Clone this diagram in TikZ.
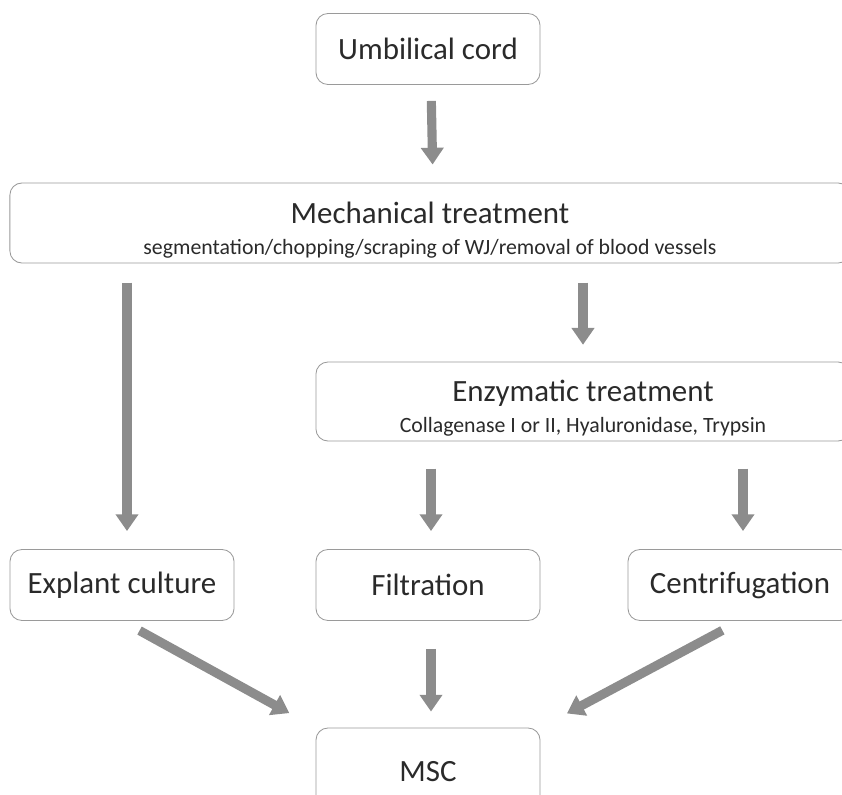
\documentclass[tikz,border=0pt]{standalone}
\usepackage{fontspec}
\setmainfont{Carlito}
\usetikzlibrary{arrows.meta}
\usetikzlibrary{positioning}
\definecolor{boxline}{HTML}{9A9A9A}
\definecolor{arrowgray}{HTML}{8C8C8C}
\definecolor{textgray}{HTML}{2A2A2A}
\tikzset{
x=0.025cm, y=-0.025cm,
my box/.style={draw=boxline,line width=0.6pt,rounded corners=3mm,
  text=textgray,inner sep=1mm,align=center},
small box/.style={my box,minimum width=5.6cm,minimum height=1.775cm,font=\fontsize{22}{26}\selectfont},
wide box/.style={my box,minimum height=2cm,font=\fontsize{22}{26}\selectfont},
flow/.style={draw=arrowgray,line width=6.5pt,
  -{Triangle[width=0.55cm,length=0.42cm]}},
}
\begin{document}
\begin{tikzpicture}
\useasboundingbox (0,0) rectangle (842,795);
\clip (0,0) rectangle (842,795);
\node[small box] (umb)   at (428,49) {Umbilical cord};
\node[wide box,minimum width=21cm] (mech) at (430,223)
  {\rule{0pt}{25pt}Mechanical treatment\\[-4pt]
   {\fontsize{15.5}{18}\selectfont segmentation/chopping/scraping of WJ/removal of blood vessels}};
\node[wide box,minimum width=13.35cm,minimum height=1.975cm] (enz) at (583,401.5)
  {\rule{0pt}{25pt}Enzymatic treatment\\[-4pt]
   {\fontsize{15.5}{18}\selectfont Collagenase I or II, Hyaluronidase, Trypsin}};
\node[small box] (expl)  at (122,585) {Explant culture};
\node[small box] (filt)  at (428,585) {Filtration};
\node[small box] (centr) at (740,585) {Centrifugation};
\node[small box,minimum height=2.2cm] (msc) at (428,772) {MSC};
% vertical arrows
\draw[flow,shorten <=0.4cm,shorten >=0.45cm] ([xshift=0.075cm]umb.south) -- ([xshift=0.075cm]mech.north);
\draw[flow,shorten <=0.48cm,shorten >=0.45cm] ([xshift=0.125cm]mech.south -| expl.north) -- ([xshift=0.125cm]expl.north);
\draw[flow,shorten <=0.48cm,shorten >=0.42cm] (mech.south -| enz.north) -- (enz.north);
\draw[flow,shorten <=0.68cm,shorten >=0.45cm] ([xshift=0.075cm]enz.south -| filt.north) -- ([xshift=0.075cm]filt.north);
\draw[flow,shorten <=0.68cm,shorten >=0.45cm] ([xshift=0.075cm]enz.south -| centr.north) -- ([xshift=0.075cm]centr.north);
\draw[flow,shorten <=0.7cm,shorten >=0.4cm] ([xshift=0.075cm]filt.south) -- ([xshift=0.075cm]msc.north);
% diagonal arrows
\draw[flow,shorten <=0.5cm,shorten >=0.75cm] (expl.south) -- (msc.north west);
\draw[flow,shorten <=0.5cm,shorten >=0.75cm] (centr.south) -- (msc.north east);
\end{tikzpicture}
\end{document}
